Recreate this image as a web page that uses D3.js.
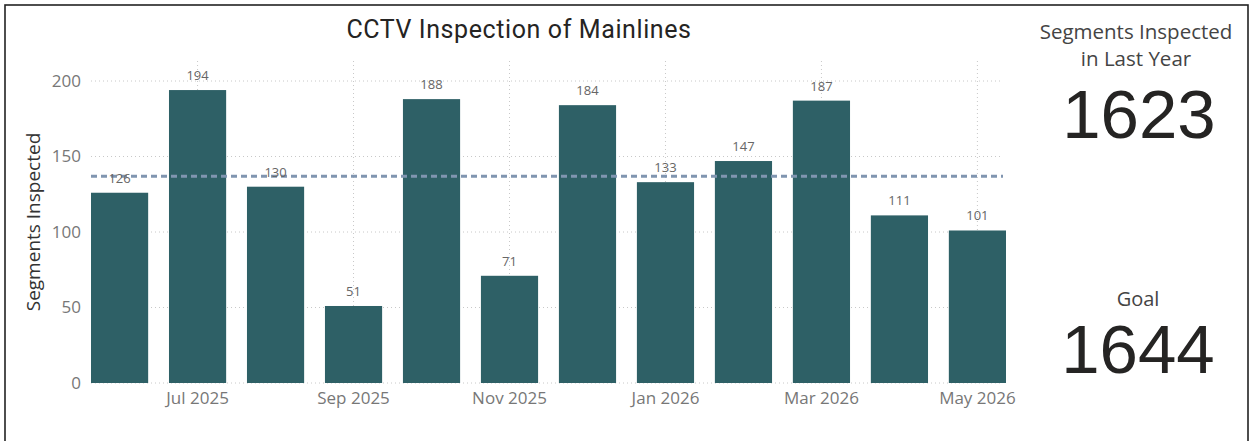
<!DOCTYPE html>
<html>
<head>
<meta charset="utf-8">
<script src="https://cdn.jsdelivr.net/npm/d3@7"></script>
<style>
  html, body { margin: 0; padding: 0; background: #fff; }
  svg { display: block; }
</style>
</head>
<body>
<svg id="chart" width="1255" height="441"></svg>
<script>
const months = ["Jun 2025","Jul 2025","Aug 2025","Sep 2025","Oct 2025","Nov 2025",
                "Dec 2025","Jan 2026","Feb 2026","Mar 2026","Apr 2026","May 2026"];
const values = [126, 194, 130, 51, 188, 71, 184, 133, 147, 187, 111, 101];
const xTickLabels = ["Jul 2025","Sep 2025","Nov 2025","Jan 2026","Mar 2026","May 2026"];
const yTicks = [0, 50, 100, 150, 200];
const goalTotal = 1644;
const monthlyGoal = 137; // 1644 / 12
const titleText = "CCTV Inspection of Mainlines";
const yAxisTitle = "Segments Inspected";
const cardTitle1 = ["Segments Inspected", "in Last Year"];
const cardTitle2 = "Goal";

const svg = d3.select("#chart");
const uiFont = "'Open Sans', 'Noto Sans', sans-serif";

// frame
svg.append("rect").attr("x", 5).attr("y", 5).attr("width", 1243).attr("height", 450)
  .attr("fill", "none").attr("stroke", "#222").attr("stroke-width", 1.6);

const x = d3.scaleBand().domain(months).range([91, 1006]).paddingInner(0.267).paddingOuter(0);
const y = d3.scaleLinear().domain([0, 200]).range([383, 81]);

// horizontal grid
svg.append("g").selectAll("line").data(yTicks).join("line")
  .attr("x1", 91).attr("x2", 1003)
  .attr("y1", d => y(d)).attr("y2", d => y(d))
  .attr("stroke", "#c8c8c8").attr("stroke-width", 1).attr("stroke-dasharray", "1,3");

// vertical grid
svg.append("g").selectAll("line").data(xTickLabels).join("line")
  .attr("x1", d => x(d) + x.bandwidth() / 2).attr("x2", d => x(d) + x.bandwidth() / 2)
  .attr("y1", 61).attr("y2", 383)
  .attr("stroke", "#c8c8c8").attr("stroke-width", 1).attr("stroke-dasharray", "1,3");

// bars
svg.append("g").selectAll("rect").data(values).join("rect")
  .attr("x", (d, i) => x(months[i]))
  .attr("y", d => y(d))
  .attr("width", x.bandwidth())
  .attr("height", d => y(0) - y(d))
  .attr("fill", "#2e6066");

// goal line
svg.append("line")
  .attr("x1", 91).attr("x2", 1003)
  .attr("y1", y(monthlyGoal)).attr("y2", y(monthlyGoal))
  .attr("stroke", "#8095b0").attr("stroke-width", 3).attr("stroke-dasharray", "6,4");

// data labels
svg.append("g").selectAll("text").data(values).join("text")
  .attr("x", (d, i) => x(months[i]) + x.bandwidth() / 2)
  .attr("y", d => y(d) - 10)
  .attr("text-anchor", "middle")
  .attr("font-family", uiFont).attr("font-size", 13).attr("fill", "#666")
  .text(d => d);

// y axis
const yAxis = d3.axisLeft(y).tickValues(yTicks).tickSize(0).tickPadding(0);
const gy = svg.append("g").attr("transform", "translate(81,0)").call(yAxis);
gy.select(".domain").remove();
gy.selectAll("text").attr("font-family", uiFont).attr("font-size", 17).attr("fill", "#777");

// x axis
const xAxis = d3.axisBottom(x).tickValues(xTickLabels).tickSize(0).tickPadding(0);
const gx = svg.append("g").attr("transform", "translate(0,392)").call(xAxis);
gx.select(".domain").remove();
gx.selectAll("text").attr("font-family", uiFont).attr("font-size", 17).attr("fill", "#777");

// axis title
svg.append("text")
  .attr("transform", "translate(40,222) rotate(-90)")
  .attr("text-anchor", "middle")
  .attr("font-family", uiFont).attr("font-size", 19).attr("fill", "#333")
  .text(yAxisTitle);

// chart title
svg.append("text")
  .attr("x", 519).attr("y", 38)
  .attr("text-anchor", "middle")
  .attr("font-family", "Roboto, sans-serif").attr("font-size", 25)
  .attr("letter-spacing", 0.6).attr("fill", "#252423")
  .text(titleText);

// cards
svg.append("g").selectAll("text").data(cardTitle1).join("text")
  .attr("x", 1136).attr("y", (d, i) => 39 + i * 27)
  .attr("text-anchor", "middle")
  .attr("font-family", uiFont).attr("font-size", 20.5).attr("fill", "#444")
  .text(d => d);

svg.append("text")
  .attr("x", 1139).attr("y", 138)
  .attr("text-anchor", "middle")
  .attr("font-family", "'Liberation Sans', Arial, sans-serif").attr("font-size", 69).attr("fill", "#252423")
  .text(d3.sum(values));

svg.append("text")
  .attr("x", 1138).attr("y", 306)
  .attr("text-anchor", "middle")
  .attr("font-family", uiFont).attr("font-size", 20).attr("fill", "#444")
  .text(cardTitle2);

svg.append("text")
  .attr("x", 1138).attr("y", 373)
  .attr("text-anchor", "middle")
  .attr("font-family", "'Liberation Sans', Arial, sans-serif").attr("font-size", 69).attr("fill", "#252423")
  .text(goalTotal);
</script>
</body>
</html>
